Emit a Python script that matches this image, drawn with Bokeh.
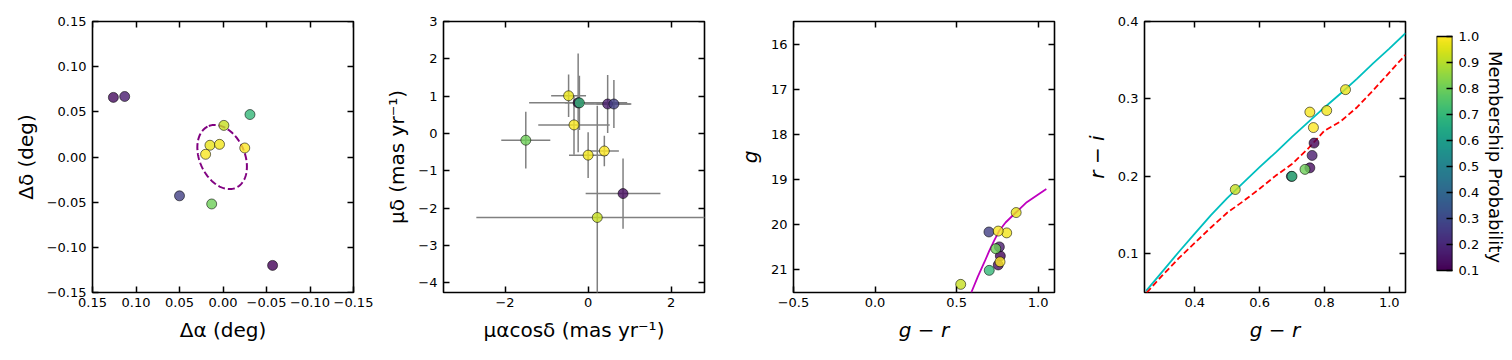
import numpy as np
from bokeh.plotting import figure
from bokeh.models import (Range1d, LinearAxis, FixedTicker, CustomJSTickFormatter,
                          ColumnDataSource, LinearColorMapper)
from bokeh.layouts import row
from bokeh.palettes import Viridis256
from bokeh.transform import linear_cmap
from bokeh.embed import file_html
from bokeh.resources import INLINE

# ---------------- data (one entry per star, sorted by membership probability) ----
prob      = [0.11, 0.13, 0.17, 0.27, 0.70, 0.80, 0.92, 0.97, 0.98, 0.99, 1.00]
d_ra      = [-0.057, 0.126, 0.113, 0.050, -0.031, 0.013, -0.001, 0.015, 0.004, 0.020, -0.025]
d_dec     = [-0.120, 0.066, 0.067, -0.043, 0.047, -0.052, 0.035, 0.013, 0.014, 0.003, 0.010]
pmra      = [-0.24, 0.84, 0.47, 0.62, -0.21, -1.50, 0.22, -0.47, 0.00, -0.34, 0.39]
pmra_err  = [1.18, 0.90, 0.55, 0.42, 0.35, 0.59, 2.91, 0.42, 0.46, 0.86, 0.35]
pmdec     = [0.82, -1.61, 0.79, 0.79, 0.82, -0.18, -2.25, 1.01, -0.58, 0.23, -0.47]
pmdec_err = [1.32, 0.94, 0.78, 0.64, 0.73, 0.76, 2.99, 0.57, 0.61, 0.80, 0.41]
g_r       = [0.768, 0.755, 0.762, 0.698, 0.700, 0.740, 0.525, 0.865, 0.807, 0.755, 0.766]
g_mag     = [20.69, 20.89, 20.49, 20.16, 21.01, 20.53, 21.32, 19.73, 20.18, 20.14, 20.82]
r_i       = [0.243, 0.211, 0.227, 0.200, 0.200, 0.209, 0.183, 0.312, 0.285, 0.283, 0.263]

# half-light ellipse
ell_center = (0.001, 0.0)
ell_a = 0.0376
ell_b = 0.0257
ell_pa_deg = 26.6

# isochrone (g vs g-r)
iso_gr = [0.59, 0.63, 0.67, 0.70, 0.73, 0.76, 0.80, 0.86, 0.93, 1.00, 1.05]
iso_g  = [21.5, 21.15, 20.83, 20.58, 20.35, 20.14, 19.95, 19.74, 19.50, 19.33, 19.21]

# colour-colour loci
cyan_gr = [0.25, 0.30, 0.35, 0.40, 0.45, 0.50, 0.55, 0.60, 0.65, 0.70, 0.75, 0.80, 0.85, 0.90, 0.95, 1.00, 1.05]
cyan_ri = [0.052, 0.077, 0.102, 0.126, 0.150, 0.172, 0.192, 0.212, 0.231, 0.251, 0.270, 0.289, 0.307, 0.326, 0.346, 0.365, 0.385]
red_gr = [0.252, 0.30, 0.35, 0.40, 0.45, 0.50, 0.55, 0.60, 0.65, 0.70, 0.75, 0.80, 0.85, 0.90, 0.95, 1.00, 1.05]
red_ri = [0.050, 0.072, 0.094, 0.114, 0.134, 0.153, 0.168, 0.184, 0.201, 0.216, 0.236, 0.259, 0.271, 0.289, 0.311, 0.334, 0.357]

# ticks
p1_xticks = [0.15, 0.10, 0.05, 0.0, -0.05, -0.10, -0.15]
p1_yticks = [-0.15, -0.10, -0.05, 0.0, 0.05, 0.10, 0.15]
p2_xticks = [-2, 0, 2]
p2_yticks = [-4, -3, -2, -1, 0, 1, 2, 3]
p3_xticks = [-0.5, 0.0, 0.5, 1.0]
p3_yticks = [16, 17, 18, 19, 20, 21]
p4_xticks = [0.4, 0.6, 0.8, 1.0]
p4_yticks = [0.1, 0.2, 0.3, 0.4]
cb_ticks = [0.1, 0.2, 0.3, 0.4, 0.5, 0.6, 0.7, 0.8, 0.9, 1.0]
cb_low, cb_high = 0.1, 1.0

FONT = "DejaVu Sans"
TICK_SIZE = "13px"
LABEL_SIZE = "20px"
TOP, BOTTOM = 21, 60

src = ColumnDataSource(dict(prob=prob, d_ra=d_ra, d_dec=d_dec, pmra=pmra, pmdec=pmdec,
                            g_r=g_r, g_mag=g_mag, r_i=r_i))
cmap = linear_cmap("prob", Viridis256, cb_low, cb_high)


def fmt(dec):
    return CustomJSTickFormatter(code="return tick.toFixed(%d).replace('-', '\\u2212');" % dec)


def blank():
    return CustomJSTickFormatter(code="return '';")


def style_axis(ax, ticks, formatter, size, standoff):
    ax.ticker = FixedTicker(ticks=ticks, minor_ticks=[])
    ax.formatter = formatter
    ax.major_tick_in = 6
    ax.major_tick_out = 0
    ax.minor_tick_line_color = None
    ax.major_tick_line_width = 1.5
    ax.major_tick_line_color = "black"
    ax.axis_line_color = None
    ax.major_label_text_font = FONT
    ax.major_label_text_font_size = size
    ax.major_label_text_color = "black"
    ax.major_label_standoff = standoff
    ax.axis_label_text_font = FONT
    ax.axis_label_text_font_style = "normal"
    ax.axis_label_text_color = "black"


def make_fig(xr, yr, left, right, xticks, yticks, xdec, ydec,
             xlabel, ylabel, italic=False, xstand=5, ystand=6, xlstand=8, ylstand=6):
    p = figure(x_range=xr, y_range=yr, frame_width=261, frame_height=271, title=None,
               min_border_left=left, min_border_right=right, min_border_top=TOP,
               min_border_bottom=BOTTOM, output_backend="svg", toolbar_location=None)
    p.grid.visible = False
    p.outline_line_color = "black"
    p.outline_line_width = 1.6
    p.outline_line_alpha = 1.0
    p.background_fill_color = "white"
    p.border_fill_color = "white"
    style_axis(p.xaxis[0], xticks, fmt(xdec), TICK_SIZE, xstand)
    style_axis(p.yaxis[0], yticks, fmt(ydec), TICK_SIZE, ystand)
    p.xaxis[0].axis_label = xlabel
    p.yaxis[0].axis_label = ylabel
    p.xaxis[0].axis_label_text_font_size = LABEL_SIZE
    p.yaxis[0].axis_label_text_font_size = LABEL_SIZE
    p.xaxis[0].axis_label_standoff = xlstand
    p.yaxis[0].axis_label_standoff = ylstand
    if italic:
        p.xaxis[0].axis_label_text_font_style = "italic"
        p.yaxis[0].axis_label_text_font_style = "italic"
    # mirrored inward ticks on the top and right frame edges
    top = LinearAxis(fixed_location=yr.end)
    style_axis(top, xticks, blank(), "1px", 0)
    p.add_layout(top, "above")
    rgt = LinearAxis(fixed_location=xr.end)
    style_axis(rgt, yticks, blank(), "1px", 0)
    p.add_layout(rgt, "right")
    return p


# ---------------- panel 1: positions ----------------
p1 = make_fig(Range1d(0.15, -0.15), Range1d(-0.15, 0.15), 92, 20, p1_xticks, p1_yticks,
              2, 2, "Δα (deg)", "Δδ (deg)")
phi = np.radians(ell_pa_deg)
t = np.linspace(0, 2 * np.pi, 241)
ex = ell_center[0] + ell_a * np.cos(t) * np.sin(phi) + ell_b * np.sin(t) * np.cos(phi)
ey = ell_center[1] + ell_a * np.cos(t) * np.cos(phi) - ell_b * np.sin(t) * np.sin(phi)
p1.line(ex, ey, line_color="#800080", line_width=2, line_dash="7 3")
p1.scatter("d_ra", "d_dec", source=src, size=10, fill_color=cmap, fill_alpha=0.8,
           line_color="black", line_alpha=0.7, line_width=0.8)

# ---------------- panel 2: proper motions ----------------
p2 = make_fig(Range1d(-3.48, 2.80), Range1d(-4.26, 3.0), 70, 20, p2_xticks, p2_yticks,
              0, 0, "μαcosδ (mas yr⁻¹)", "μδ (mas yr⁻¹)")
pmra_a = np.array(pmra)
pmdec_a = np.array(pmdec)
pmra_e = np.array(pmra_err)
pmdec_e = np.array(pmdec_err)
p2.segment(pmra_a - pmra_e, pmdec_a, pmra_a + pmra_e, pmdec_a, line_color="gray", line_width=1.5)
p2.segment(pmra_a, pmdec_a - pmdec_e, pmra_a, pmdec_a + pmdec_e, line_color="gray", line_width=1.5)
p2.scatter("pmra", "pmdec", source=src, size=10, fill_color=cmap, fill_alpha=0.8,
           line_color="black", line_alpha=0.7, line_width=0.8)

# ---------------- panel 3: CMD ----------------
p3 = make_fig(Range1d(-0.5, 1.1), Range1d(21.5, 15.5), 69, 20, p3_xticks, p3_yticks,
              1, 0, "g − r", "g", italic=True)
p3.line(iso_gr, iso_g, line_color="#bf00bf", line_width=1.8)
p3.scatter("g_r", "g_mag", source=src, size=10, fill_color=cmap, fill_alpha=0.8,
           line_color="black", line_alpha=0.7, line_width=0.8)

# ---------------- panel 4: colour-colour ----------------
p4 = make_fig(Range1d(0.245, 1.05), Range1d(0.05, 0.4), 70, 20, p4_xticks, p4_yticks,
              1, 1, "g − r", "r − i", italic=True)
p4.line(cyan_gr, cyan_ri, line_color="#00bfbf", line_width=1.8)
p4.line(red_gr, red_ri, line_color="red", line_width=1.8, line_dash="6 3")
p4.scatter("g_r", "r_i", source=src, size=10, fill_color=cmap, fill_alpha=0.8,
           line_color="black", line_alpha=0.7, line_width=0.8)

# ---------------- colour bar (same frame height as the panels; bar is shorter) ----------------
pcb = figure(x_range=Range1d(0, 1), y_range=Range1d(0.0154, 1.0577), frame_width=16,
             frame_height=271, title=None, min_border_left=11, min_border_right=0,
             min_border_top=TOP, min_border_bottom=BOTTOM, output_backend="svg",
             toolbar_location=None, y_axis_location="right")
pcb.grid.visible = False
pcb.xaxis.visible = False
pcb.outline_line_color = None
grad = np.linspace(cb_low, cb_high, 256).reshape(256, 1)
pcb.image(image=[grad], x=0, y=cb_low, dw=1, dh=cb_high - cb_low,
          color_mapper=LinearColorMapper(palette=Viridis256, low=cb_low, high=cb_high))
pcb.quad(left=0, right=1, bottom=cb_low, top=cb_high, fill_color=None,
         line_color="black", line_width=1.6)
style_axis(pcb.yaxis[0], cb_ticks, fmt(1), TICK_SIZE, 6)
pcb.yaxis[0].axis_label = "Membership Probability"
pcb.yaxis[0].axis_label_text_font_size = "18px"
pcb.yaxis[0].axis_label_standoff = 3

layout = row(p1, p2, p3, p4, pcb)
open("out.html", "w").write(file_html(layout, INLINE))
